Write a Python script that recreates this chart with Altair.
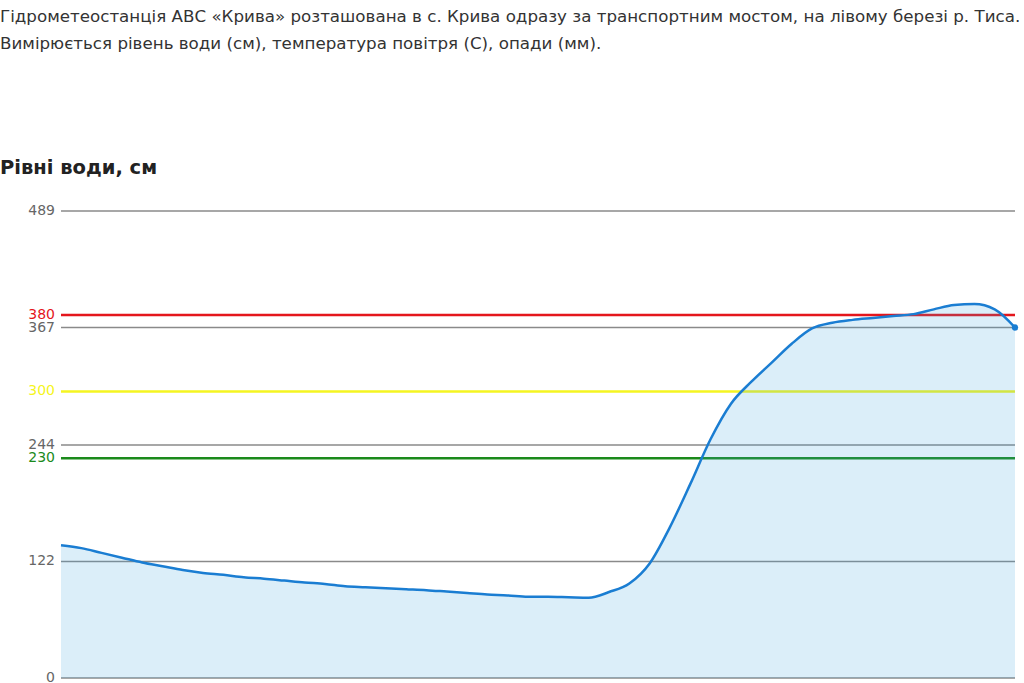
import altair as alt
import pandas as pd

# Hourly water level readings, cm (oldest first, latest last)
levels = [
    139, 136, 131, 126, 121, 117, 113, 110, 108, 105.5, 104, 102,
    100, 98.5, 96, 95, 94, 93, 92, 90.5, 89, 87.5, 86.5, 85,
    85, 84.5, 84, 90, 99, 120, 158, 203, 250, 287, 310, 330,
    350, 366, 372, 375, 377, 379, 381, 386, 390.5, 391.5, 386, 367,
]

# Gray reference lines and their labels
grid_values = [0, 122, 244, 367, 489]

# Warning levels
threshold_values = [380, 300, 230]
threshold_colors = ["#e4161c", "#f5f521", "#1b8a1b"]

header_lines = [
    "Гідрометеостанція АВС «Крива» розташована в с. Крива одразу за транспортним мостом, на лівому березі р. Тиса.",
    "Вимірюється рівень води (см), температура повітря (С), опади (мм).",
]
chart_title = "Рівні води, см"

W, H = 954, 467
FONT = "DejaVu Sans"
LINE = "#1a7dd2"

df = pd.DataFrame({"i": list(range(len(levels))), "level": levels})
last = df.tail(1)
grid_df = pd.DataFrame({"v": grid_values})
thr_df = pd.DataFrame({"v": threshold_values, "c": threshold_colors})

x_enc = alt.X("i:Q", axis=None, scale=alt.Scale(domain=[0, len(levels) - 1], nice=False, zero=False))
y_scale = alt.Scale(domain=[0, 489], nice=False)

grid = alt.Chart(grid_df).mark_rule(color="#8a8a8a", strokeWidth=1.5).encode(
    y=alt.Y("v:Q", scale=y_scale, axis=None),
    x=alt.value(0), x2=alt.value(W),
)
grid_labels = alt.Chart(grid_df).mark_text(
    align="right", baseline="middle", font=FONT, fontSize=14, color="#666666"
).encode(y=alt.Y("v:Q", scale=y_scale, axis=None), x=alt.value(-6), text="v:Q")

thr = alt.Chart(thr_df).mark_rule(strokeWidth=2.5).encode(
    y=alt.Y("v:Q", scale=y_scale, axis=None),
    x=alt.value(0), x2=alt.value(W),
    color=alt.Color("c:N", scale=None),
)
thr_labels = alt.Chart(thr_df).mark_text(
    align="right", baseline="middle", font=FONT, fontSize=14
).encode(
    y=alt.Y("v:Q", scale=y_scale, axis=None), x=alt.value(-6), text="v:Q",
    color=alt.Color("c:N", scale=None),
)

area = alt.Chart(df).mark_area(color="#3aa0e0", opacity=0.18, interpolate="monotone").encode(
    x=x_enc, y=alt.Y("level:Q", scale=y_scale, axis=None)
)
line = alt.Chart(df).mark_line(color=LINE, strokeWidth=2.5, interpolate="monotone").encode(
    x=x_enc, y=alt.Y("level:Q", scale=y_scale, axis=None)
)
dot = alt.Chart(last).mark_circle(color=LINE, size=40, opacity=1).encode(
    x=x_enc, y=alt.Y("level:Q", scale=y_scale, axis=None)
)

head1 = alt.Chart(pd.DataFrame({"t": [header_lines[0]]})).mark_text(
    align="left", baseline="middle", font=FONT, fontSize=16.7, color="#333333"
).encode(text="t:N", x=alt.value(-61), y=alt.value(17 - 211))
head2 = alt.Chart(pd.DataFrame({"t": [header_lines[1]]})).mark_text(
    align="left", baseline="middle", font=FONT, fontSize=16.7, color="#333333"
).encode(text="t:N", x=alt.value(-61), y=alt.value(44 - 211))
title = alt.Chart(pd.DataFrame({"t": [chart_title]})).mark_text(
    align="left", baseline="middle", font=FONT, fontSize=19.5, fontWeight="bold", color="#222222"
).encode(text="t:N", x=alt.value(-61), y=alt.value(168 - 211))

chart = alt.layer(
    grid, thr, area, line, dot, grid_labels, thr_labels, head1, head2, title
).properties(
    width=W, height=H,
    background="white",
    padding={"left": 61, "top": 211, "right": 9, "bottom": 5},
    autosize=alt.AutoSizeParams(type="none"),
).configure_view(strokeWidth=0)

chart.save("out.html", embed_options={"renderer": "svg", "actions": False})
